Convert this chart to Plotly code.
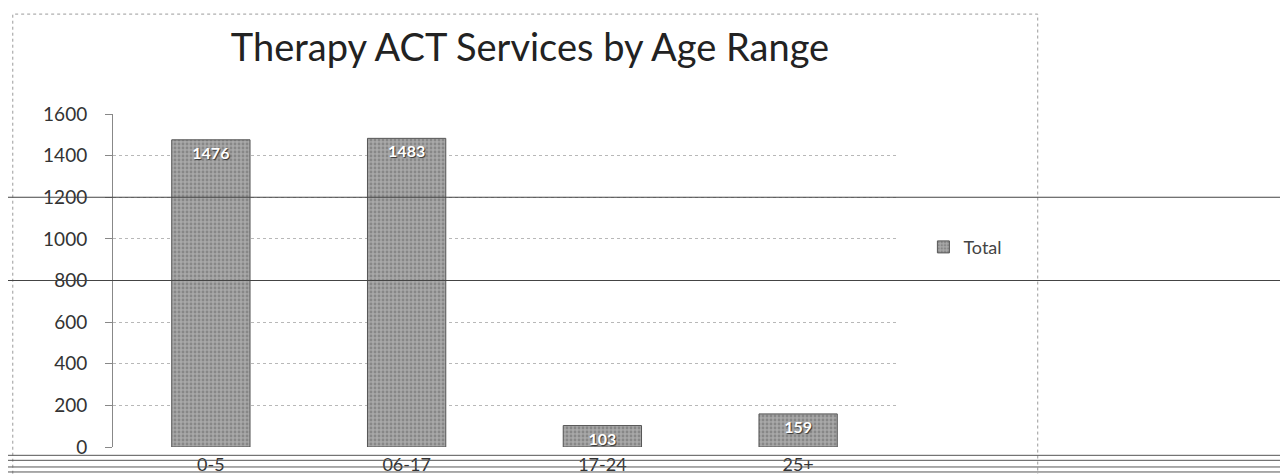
import plotly.graph_objects as go

categories = ["0-5", "06-17", "17-24", "25+"]
totals = [1476, 1483, 103, 159]
y_ticks = [0, 200, 400, 600, 800, 1000, 1200, 1400, 1600]
series_name = "Total"
title_text = "Therapy ACT Services by Age Range"

fig = go.Figure()
fig.add_trace(go.Bar(
    x=categories, y=totals, name=series_name,
    text=[str(v) for v in totals], textposition="inside", insidetextanchor="end",
    textfont=dict(family="Lato, DejaVu Sans", size=16, color="white", weight="bold",
                  shadow="1px 1px 1px #333"),
    marker=dict(color="#9a9a9a", line=dict(color="#555", width=1),
                pattern=dict(shape=".", fgcolor="#666", bgcolor="#a8a8a8", size=4, solidity=0.4)),
    width=0.4, showlegend=True,
))

fig.update_layout(
    width=1288, height=474,
    margin=dict(l=105, r=400, t=106, b=35),
    paper_bgcolor="white", plot_bgcolor="white",
    title=dict(text=title_text, x=522/1288, xanchor="center", xref="container",
               y=1-40/474, yanchor="middle", yref="container",
               font=dict(family="Lato, Open Sans", size=38, color="#222")),
    font=dict(family="Lato, Open Sans", color="#333"),
    legend=dict(x=1.035, y=0.6, xanchor="left", yanchor="middle",
                font=dict(size=18, color="#444"), itemwidth=30,
                bgcolor="rgba(0,0,0,0)"),
    bargap=0.6,
    uniformtext=dict(minsize=16, mode="show"),
)
fig.update_xaxes(range=[-0.5, 3.5], showgrid=False, showline=False, ticks="",
                 ticklabelstandoff=5, automargin=False,
                 tickfont=dict(size=18, color="#333"))
fig.update_yaxes(range=[0, 1600], tickvals=y_ticks, showgrid=True,
                 gridcolor="#b8b8b8", griddash="dot", gridwidth=1,
                 showline=True, linecolor="#888", linewidth=1,
                 ticks="outside", ticklen=7, tickcolor="#888",
                 ticklabelstandoff=14, automargin=False,
                 tickfont=dict(size=19, color="#333"), zeroline=False)

# chart area border (dotted)
fig.add_shape(type="rect", xref="paper", yref="paper",
              x0=-0.128, x1=1.181, y0=-0.2, y1=1.30,
              line=dict(color="#9a9a9a", width=1, dash="dot"))
# scan lines across the page
for yv in (1200, 800):
    fig.add_shape(type="line", xref="paper", yref="y", x0=-0.2, x1=1.6, y0=yv, y1=yv,
                  line=dict(color="#444", width=1))
for yp in (-0.025, -0.04, -0.06, -0.075):
    fig.add_shape(type="line", xref="paper", yref="paper", x0=-0.2, x1=1.6, y0=yp, y1=yp,
                  line=dict(color="#555", width=1))

fig.write_html("out.html")
